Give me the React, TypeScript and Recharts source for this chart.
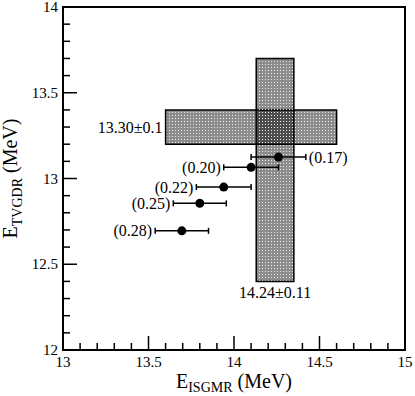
import React from "react";
import { ScatterChart, Scatter, XAxis, YAxis, ErrorBar, ReferenceArea, ReferenceDot } from "recharts";

const FONT = '"Liberation Serif", "DejaVu Serif", serif';

// ticks, 0.1 apart; the .5 ones are major and carry labels
const xTicks = [13, 13.1, 13.2, 13.3, 13.4, 13.5, 13.6, 13.7, 13.8, 13.9, 14, 14.1, 14.2, 14.3, 14.4, 14.5, 14.6, 14.7, 14.8, 14.9, 15];
const yTicks = [12, 12.1, 12.2, 12.3, 12.4, 12.5, 12.6, 12.7, 12.8, 12.9, 13, 13.1, 13.2, 13.3, 13.4, 13.5, 13.6, 13.7, 13.8, 13.9, 14];
const xDomain = [13, 15];
const yDomain = [12, 14];

// calculations (labelled by the parameter in brackets)
const calcLabels = ["(0.17)", "(0.20)", "(0.22)", "(0.25)", "(0.28)"];
const calcIsgmr = [14.26, 14.1, 13.94, 13.8, 13.695];
const calcTvgdr = [13.125, 13.065, 12.95, 12.855, 12.695];
const calcErr = [0.16, 0.16, 0.16, 0.155, 0.156];

// experimental bands: E_TVGDR = 13.30±0.1, E_ISGMR = 14.24±0.11
const tvgdrBandX = [13.6, 14.6];
const tvgdrBandY = [13.2, 13.4];
const isgmrBandX = [14.13, 14.35];
const isgmrBandY = [12.4, 13.7];

const points = calcIsgmr.map((x, i) => ({ x, y: calcTvgdr[i], err: calcErr[i], label: calcLabels[i] }));
const leftLabels = points.slice(1).map((p) => ({ x: p.x - p.err, y: p.y, label: p.label }));
const rightLabels = points.slice(0, 1).map((p) => ({ x: p.x + p.err, y: p.y, label: p.label }));

const isMajor = (v: number) => Math.abs(v * 2 - Math.round(v * 2)) < 1e-6;

function AxisTick(props: any) {
  const { x, y, payload, side, showLabel } = props;
  const v = payload.value;
  const len = isMajor(v) ? 14 : 7;
  let x2 = x;
  let y2 = y - len;
  if (side === "top") y2 = y + len;
  else if (side === "left") { x2 = x + len; y2 = y; }
  else if (side === "right") { x2 = x - len; y2 = y; }
  return (
    <g>
      <line x1={x} y1={y} x2={x2} y2={y2} stroke="#000" strokeWidth={1.5} />
      {showLabel && isMajor(v) && side === "bottom" && (
        <text x={x} y={y + 17} textAnchor="middle" fill="#000" fontSize={15} fontFamily={FONT}>
          {String(v)}
        </text>
      )}
      {showLabel && isMajor(v) && side === "left" && (
        <text x={x - 5} y={y + 5} textAnchor="end" fill="#000" fontSize={15} fontFamily={FONT}>
          {String(v)}
        </text>
      )}
    </g>
  );
}

const xTitle = (lp: any) => {
  const vb = lp.viewBox;
  return (
    <text x={vb.x + vb.width / 2} y={388} textAnchor="middle" fontSize={20} fontFamily={FONT} fill="#000">
      E<tspan fontSize={14} dy={4}>ISGMR</tspan>
      <tspan dy={-4} fontSize={20}> (MeV)</tspan>
    </text>
  );
};

const yTitle = (lp: any) => {
  const vb = lp.viewBox;
  const cy = vb.y + vb.height / 2;
  return (
    <text x={17} y={cy} transform={`rotate(-90, 17, ${cy})`} textAnchor="middle" fontSize={20} fontFamily={FONT} fill="#000">
      E<tspan fontSize={14} dy={5}>TVGDR</tspan>
      <tspan dy={-5} fontSize={20}> (MeV)</tspan>
    </text>
  );
};

const labelStyle = { fontSize: 16, fill: "#000", fontFamily: FONT };

export default function App() {
  return (
    <div style={{ position: "absolute", left: 0, top: 0, fontFamily: FONT }}>
      <ScatterChart width={415} height={396} margin={{ top: 6, right: 9, bottom: 0, left: 0 }}>
        <defs>
          <pattern id="dotfill" width={3} height={3} patternUnits="userSpaceOnUse">
            <rect width={3} height={3} fill="rgba(0,0,0,0.45)" />
            <rect x={1} y={1} width={1} height={1} fill="rgba(255,255,255,0.85)" />
          </pattern>
        </defs>
        <XAxis xAxisId="b" type="number" dataKey="x" domain={xDomain} ticks={xTicks} interval={0} height={46}
          tickSize={0} tickMargin={0} tickLine={false} axisLine={false}
          tick={(p: any) => <AxisTick {...p} side="bottom" showLabel />}
          label={{ content: xTitle }} />
        <XAxis xAxisId="t" orientation="top" type="number" domain={xDomain} ticks={xTicks} interval={0} height={1}
          tickSize={0} tickMargin={0} tickLine={false} axisLine={false}
          tick={(p: any) => <AxisTick {...p} side="top" />} />
        <YAxis yAxisId="l" type="number" dataKey="y" domain={yDomain} ticks={yTicks} interval={0} width={63}
          tickSize={0} tickMargin={0} tickLine={false} axisLine={false}
          tick={(p: any) => <AxisTick {...p} side="left" showLabel />}
          label={{ content: yTitle }} />
        <YAxis yAxisId="r" orientation="right" type="number" domain={yDomain} ticks={yTicks} interval={0} width={1}
          tickSize={0} tickMargin={0} tickLine={false} axisLine={false}
          tick={(p: any) => <AxisTick {...p} side="right" />} />
        <ReferenceArea xAxisId="b" yAxisId="l" x1={tvgdrBandX[0]} x2={tvgdrBandX[1]} y1={tvgdrBandY[0]} y2={tvgdrBandY[1]}
          fill="url(#dotfill)" fillOpacity={1} stroke="#000" strokeWidth={1.5}
          label={{ value: "13.30±0.1", position: "left", offset: 3, ...labelStyle }} />
        <ReferenceArea xAxisId="b" yAxisId="l" x1={isgmrBandX[0]} x2={isgmrBandX[1]} y1={isgmrBandY[0]} y2={isgmrBandY[1]}
          fill="url(#dotfill)" fillOpacity={1} stroke="#000" strokeWidth={1.5}
          label={{ value: "14.24±0.11", position: "bottom", offset: 5, ...labelStyle }} />
        {/* plot frame */}
        <ReferenceArea xAxisId="b" yAxisId="l" x1={xDomain[0]} x2={xDomain[1]} y1={yDomain[0]} y2={yDomain[1]}
          fill="none" stroke="#000" strokeWidth={2} />
        <Scatter xAxisId="b" yAxisId="l" data={points} fill="#000" isAnimationActive={false}
          shape={(p: any) => <circle cx={p.cx} cy={p.cy} r={4.5} fill="#000" />}>
          <ErrorBar dataKey="err" direction="x" width={3} stroke="#000" strokeWidth={1.5} isAnimationActive={false} />
        </Scatter>
        {leftLabels.map((l) => (
          <ReferenceDot key={l.label} xAxisId="b" yAxisId="l" x={l.x} y={l.y} r={0} fill="none" stroke="none"
            label={{ value: l.label, position: "left", offset: 3, ...labelStyle }} />
        ))}
        {rightLabels.map((l) => (
          <ReferenceDot key={l.label} xAxisId="b" yAxisId="l" x={l.x} y={l.y} r={0} fill="none" stroke="none"
            label={{ value: l.label, position: "right", offset: 3, ...labelStyle }} />
        ))}
      </ScatterChart>
    </div>
  );
}
